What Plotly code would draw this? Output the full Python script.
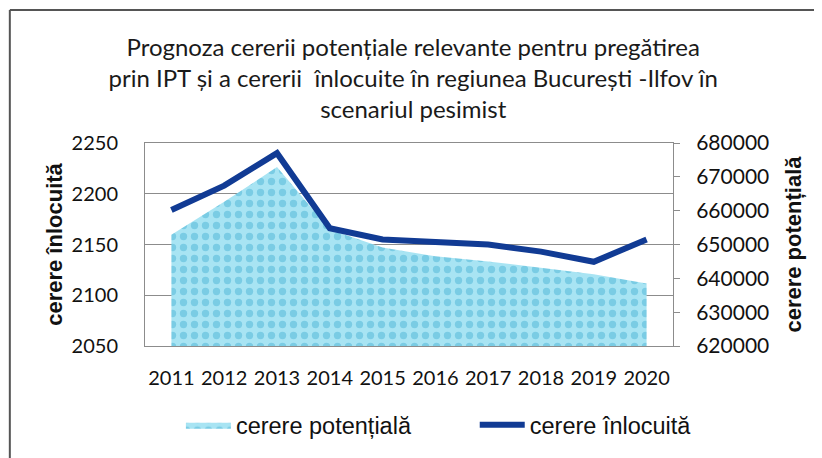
import plotly.graph_objects as go

years = ["2011", "2012", "2013", "2014", "2015", "2016", "2017", "2018", "2019", "2020"]
cerere_potentiala = [652900, 662600, 672900, 654400, 649100, 646500, 645000, 643200, 641200, 638500]
cerere_inlocuita = [2184, 2208, 2240, 2166, 2155, 2153, 2150, 2143, 2133, 2155]

title_text = ("Prognoza cererii potențiale relevante pentru pregătirea<br>"
              "prin IPT și a cererii  înlocuite în regiunea București -Ilfov în<br>"
              "scenariul pesimist")

fig = go.Figure()

# area on the main axis (drawn on the right), so the line overlay sits above it
fig.add_trace(go.Scatter(
    x=years, y=cerere_potentiala, name="cerere potențială",
    mode="lines", fill="tozeroy", line=dict(width=0, color="#8fd9ec"),
    fillcolor="#8fd9ec",
    fillpattern=dict(shape=".", bgcolor="#a8e4f3", fgcolor="#4cb4d6",
                     size=11, solidity=0.35),
    yaxis="y", legend="legend",
))
fig.add_trace(go.Scatter(
    x=years, y=cerere_inlocuita, name="cerere înlocuită",
    mode="lines", line=dict(width=6, color="#113b94"),
    yaxis="y2", legend="legend2",
))

tick_font = dict(family="Lato", size=20, color="#111")
title_font = dict(family="Liberation Sans", size=22, color="#111", weight="bold")
legend_font = dict(family="Liberation Sans", size=23.5, color="#111")

fig.update_layout(
    width=814, height=450,
    margin=dict(l=137, r=149, t=135, b=111),
    paper_bgcolor="white", plot_bgcolor="white",
    title=dict(text=title_text, x=0.508, xref="paper", xanchor="center",
               y=0.894, yanchor="top",
               font=dict(family="Lato", size=24, color="#1a1a1a")),
    xaxis=dict(type="category", range=[-0.5, 9.5], showgrid=False,
               showline=True, linecolor="#8c8c8c", mirror=True,
               ticks="", tickfont=tick_font, ticklabelstandoff=14),
    yaxis=dict(side="right", range=[620000, 680000], dtick=10000, tickformat="d",
               showgrid=False, showline=True, linecolor="#8c8c8c",
               ticks="outside", ticklen=6, tickcolor="#8c8c8c",
               tickfont=dict(family="Lato", size=21, color="#111"),
               ticklabelstandoff=12,
               title=dict(text="cerere potențială", font=title_font, standoff=17)),
    yaxis2=dict(overlaying="y", side="left", range=[2050, 2250], dtick=50,
                showgrid=True, gridcolor="#8c8c8c", gridwidth=1,
                showline=True, linecolor="#8c8c8c",
                ticks="", tickfont=tick_font, ticklabelstandoff=22,
                title=dict(text="cerere înlocuită", font=title_font, standoff=2)),
    legend=dict(x=0.068, y=-0.382, xanchor="left", yanchor="middle",
                itemwidth=45, font=legend_font),
    legend2=dict(x=0.6245, y=-0.382, xanchor="left", yanchor="middle",
                 itemwidth=45, font=legend_font),
    showlegend=True,
    shapes=[
        dict(type="line", xref="paper", yref="paper", x0=-0.256, x1=1.3,
             y0=1.655, y1=1.655, line=dict(color="#555", width=2)),
        dict(type="line", xref="paper", yref="paper", x0=-0.256, x1=-0.256,
             y0=-0.6, y1=1.655, line=dict(color="#555", width=2)),
    ],
)

fig.write_html("out.html")
